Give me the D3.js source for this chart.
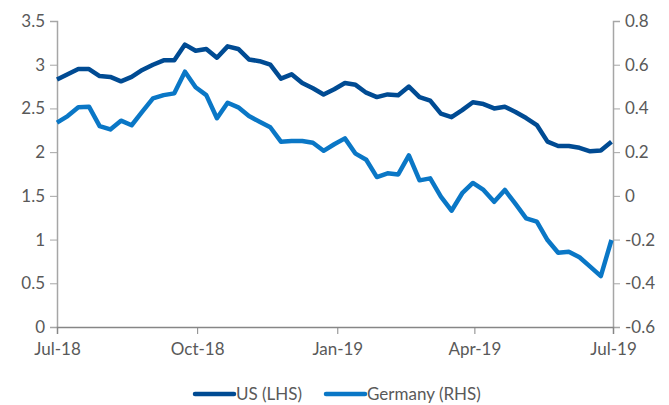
<!DOCTYPE html>
<html lang="en">
<head>
    <meta charset="UTF-8">
    <title>US vs Germany</title>
    <script type="text/javascript" src="https://cdn.jsdelivr.net/npm/d3@7"></script>
    <style>
        body { margin: 0; background: #fff; }
        text { font-family: Lato, "Open Sans", sans-serif; fill: #595959; }
    </style>
</head>
<body>

<script>
    let width = 669;
    let height = 405;

    // weekly observations, starting 1 Jul 2018
    var startDate = new Date(2018, 6, 1);
    var usValues = [2.83, 2.89, 2.95, 2.95, 2.87, 2.86, 2.81, 2.86, 2.94, 3.00, 3.05, 3.05,
        3.23, 3.16, 3.18, 3.08, 3.21, 3.18, 3.06, 3.04, 3.00, 2.84, 2.89, 2.79, 2.73, 2.66,
        2.72, 2.79, 2.77, 2.68, 2.63, 2.66, 2.65, 2.75, 2.63, 2.59, 2.44, 2.40, 2.48, 2.57,
        2.55, 2.50, 2.52, 2.46, 2.39, 2.31, 2.12, 2.07, 2.07, 2.05, 2.01, 2.02, 2.12];
    var germanyValues = [0.335, 0.365, 0.405, 0.408, 0.319, 0.304, 0.344, 0.323, 0.385, 0.446,
        0.461, 0.469, 0.568, 0.497, 0.461, 0.355, 0.426, 0.405, 0.365, 0.339, 0.314, 0.248,
        0.251, 0.251, 0.243, 0.206, 0.236, 0.263, 0.193, 0.165, 0.086, 0.103, 0.098, 0.185,
        0.071, 0.080, -0.004, -0.068, 0.012, 0.059, 0.027, -0.027, 0.027, -0.037, -0.103,
        -0.118, -0.202, -0.260, -0.256, -0.281, -0.324, -0.367, -0.202];

    var xTickDates = [new Date(2018, 6, 1), new Date(2018, 9, 1), new Date(2019, 0, 1),
        new Date(2019, 3, 1), new Date(2019, 6, 1)];
    var leftTicks = [0, 0.5, 1, 1.5, 2, 2.5, 3, 3.5];
    var rightTicks = [-0.6, -0.4, -0.2, 0, 0.2, 0.4, 0.6, 0.8];
    var seriesNames = ["US (LHS)", "Germany (RHS)"];
    var colors = ["#004b93", "#0a77c6"];

    var dates = usValues.map(function (d, i) {
        return d3.timeDay.offset(startDate, i * 7);
    });

    // plot edges (window.top is reserved, so prefixed names)
    var plotLeft = 57, plotRight = 613, plotTop = 21, plotBottom = 327;

    var svg = d3.select("body").append("svg")
        .attr("width", width)
        .attr("height", height);

    var x = d3.scaleTime()
        .domain([xTickDates[0], xTickDates[4]])
        .range([plotLeft, plotRight]);
    var yL = d3.scaleLinear().domain([0, 3.5]).range([plotBottom, plotTop]);
    var yR = d3.scaleLinear().domain([-0.6, 0.8]).range([plotBottom, plotTop]);

    // left axis
    var gL = svg.append("g")
        .attr("transform", "translate(" + plotLeft + ",0)")
        .call(d3.axisLeft(yL).tickValues(leftTicks).tickSize(7).tickPadding(5)
            .tickFormat(function (d) { return d; }));
    gL.select(".domain").attr("stroke", "#a6a6a6").attr("stroke-width", 1.5);
    gL.selectAll(".tick line").attr("stroke", "#a6a6a6");
    gL.selectAll("text").attr("font-size", 17).attr("fill", "#595959");

    // right axis
    var gR = svg.append("g")
        .attr("transform", "translate(" + plotRight + ",0)")
        .call(d3.axisRight(yR).tickValues(rightTicks).tickSize(7).tickPadding(5)
            .tickFormat(function (d) { return Math.round(d * 10) / 10; }));
    gR.select(".domain").attr("stroke", "#a6a6a6").attr("stroke-width", 1.5);
    gR.selectAll(".tick line").attr("stroke", "#a6a6a6");
    gR.selectAll("text").attr("font-size", 17).attr("fill", "#595959");

    // bottom axis
    var gX = svg.append("g")
        .attr("transform", "translate(0," + plotBottom + ")")
        .call(d3.axisBottom(x).tickValues(xTickDates).tickSize(7).tickPadding(9)
            .tickFormat(d3.timeFormat("%b-%y")));
    gX.select(".domain").attr("stroke", "#868686").attr("stroke-width", 1.5);
    gX.selectAll(".tick line").attr("stroke", "#868686");
    gX.selectAll("text").attr("font-size", 17).attr("fill", "#595959");

    var lineL = d3.line()
        .x(function (d, i) { return x(dates[i]); })
        .y(function (d) { return yL(d); });
    var lineR = d3.line()
        .x(function (d, i) { return x(dates[i]); })
        .y(function (d) { return yR(d); });

    svg.append("path")
        .datum(germanyValues)
        .attr("d", lineR)
        .attr("fill", "none")
        .attr("stroke", colors[1])
        .attr("stroke-width", 4.5)
        .attr("stroke-linejoin", "round");

    svg.append("path")
        .datum(usValues)
        .attr("d", lineL)
        .attr("fill", "none")
        .attr("stroke", colors[0])
        .attr("stroke-width", 4.5)
        .attr("stroke-linejoin", "round");

    // legend
    var legendX = [195, 326];
    var legend = svg.selectAll(".legend")
        .data(seriesNames)
        .enter()
        .append("g")
        .attr("transform", function (d, i) { return "translate(" + legendX[i] + ",394)"; });
    legend.append("line")
        .attr("x1", 0).attr("x2", 39)
        .attr("stroke", function (d, i) { return colors[i]; })
        .attr("stroke-width", 4.5)
        .attr("stroke-linecap", "round");
    legend.append("text")
        .attr("x", 41)
        .attr("dy", "0.35em")
        .attr("font-size", 17)
        .text(function (d) { return d; });
</script>

</body>
</html>
